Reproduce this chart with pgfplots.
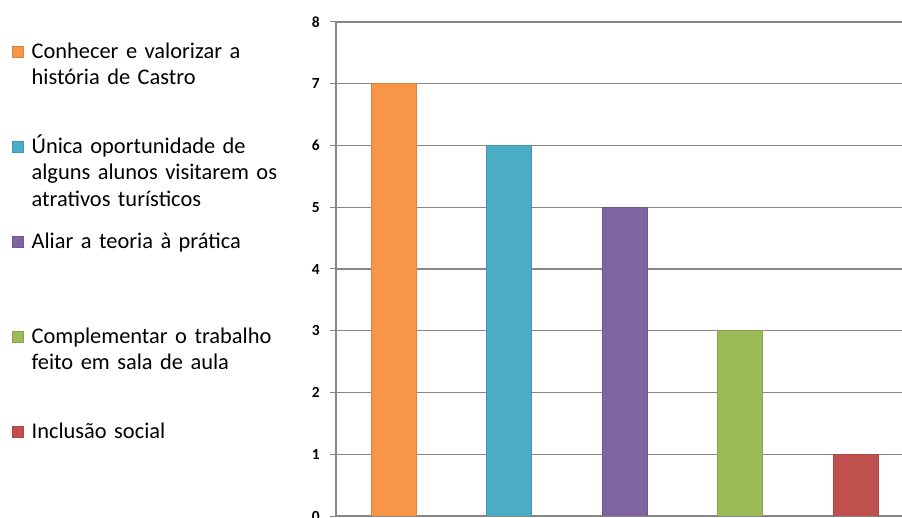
\documentclass[border=0pt]{standalone}
\usepackage{fontspec}
\setmainfont{Carlito}
\usepackage{pgfplots}
\pgfplotsset{compat=1.18}
\definecolor{c1}{HTML}{F79646}
\definecolor{c2}{HTML}{4BACC6}
\definecolor{c3}{HTML}{8064A2}
\definecolor{c4}{HTML}{9BBB59}
\definecolor{c5}{HTML}{C0504D}
\definecolor{gridgray}{RGB}{134,134,134}
\begin{document}
\begin{tikzpicture}
\clip (0,0) rectangle (902bp,518bp);
\begin{axis}[
  at={(336bp,2bp)}, anchor=south west,
  scale only axis, width=566bp, height=494bp,
  xmin=-0.5, xmax=4.4, ymin=0, ymax=8,
  axis x line*=bottom, axis y line*=left,
  xtick=\empty, ytick={0,...,8},
  ymajorgrids, grid style={color=gridgray, line width=1.1bp},
  axis line style={color=gridgray, line width=1.1bp},
  tick style={color=gridgray, line width=1bp},
  tick align=outside, major tick length=6bp,
  /pgf/number format/assume math mode=true,
  yticklabel style={font=\fontsize{15.5}{17}\selectfont\bfseries, inner sep=0pt, anchor=east, xshift=-10bp},
  ybar, bar width=45bp, bar shift=0pt,
  legend image code/.code={\draw[#1, line width=0.6bp] (0bp,1bp) rectangle (11bp,12bp);},
  legend style={at={(-0.5724,0.9676)}, anchor=north west, draw=none, fill=none,
    inner sep=0pt, outer sep=0pt, row sep=0pt, column sep=8bp,
    font=\fontsize{22.5}{27}\selectfont,
    cells={anchor=base west},
    nodes={inner sep=0pt, text width=280bp, align=left, text height=20bp, text depth=75bp}},
]
\addplot[fill=c1, draw=c1!88!black, line width=0.6bp] coordinates {(0,7)};
\addlegendentry{Conhecer e valorizar a\\história de Castro}
\addplot[fill=c2, draw=c2!88!black, line width=0.6bp] coordinates {(1,6)};
\addlegendentry{Única oportunidade de\\alguns alunos visitarem os\\atrativos turísticos}
\addplot[fill=c3, draw=c3!88!black, line width=0.6bp] coordinates {(2,5)};
\addlegendentry{Aliar a teoria à prática}
\addplot[fill=c4, draw=c4!88!black, line width=0.6bp] coordinates {(3,3)};
\addlegendentry{Complementar o trabalho\\feito em sala de aula}
\addplot[fill=c5, draw=c5!88!black, line width=0.6bp] coordinates {(4,1)};
\addlegendentry{Inclusão social}
\end{axis}
\end{tikzpicture}
\end{document}
